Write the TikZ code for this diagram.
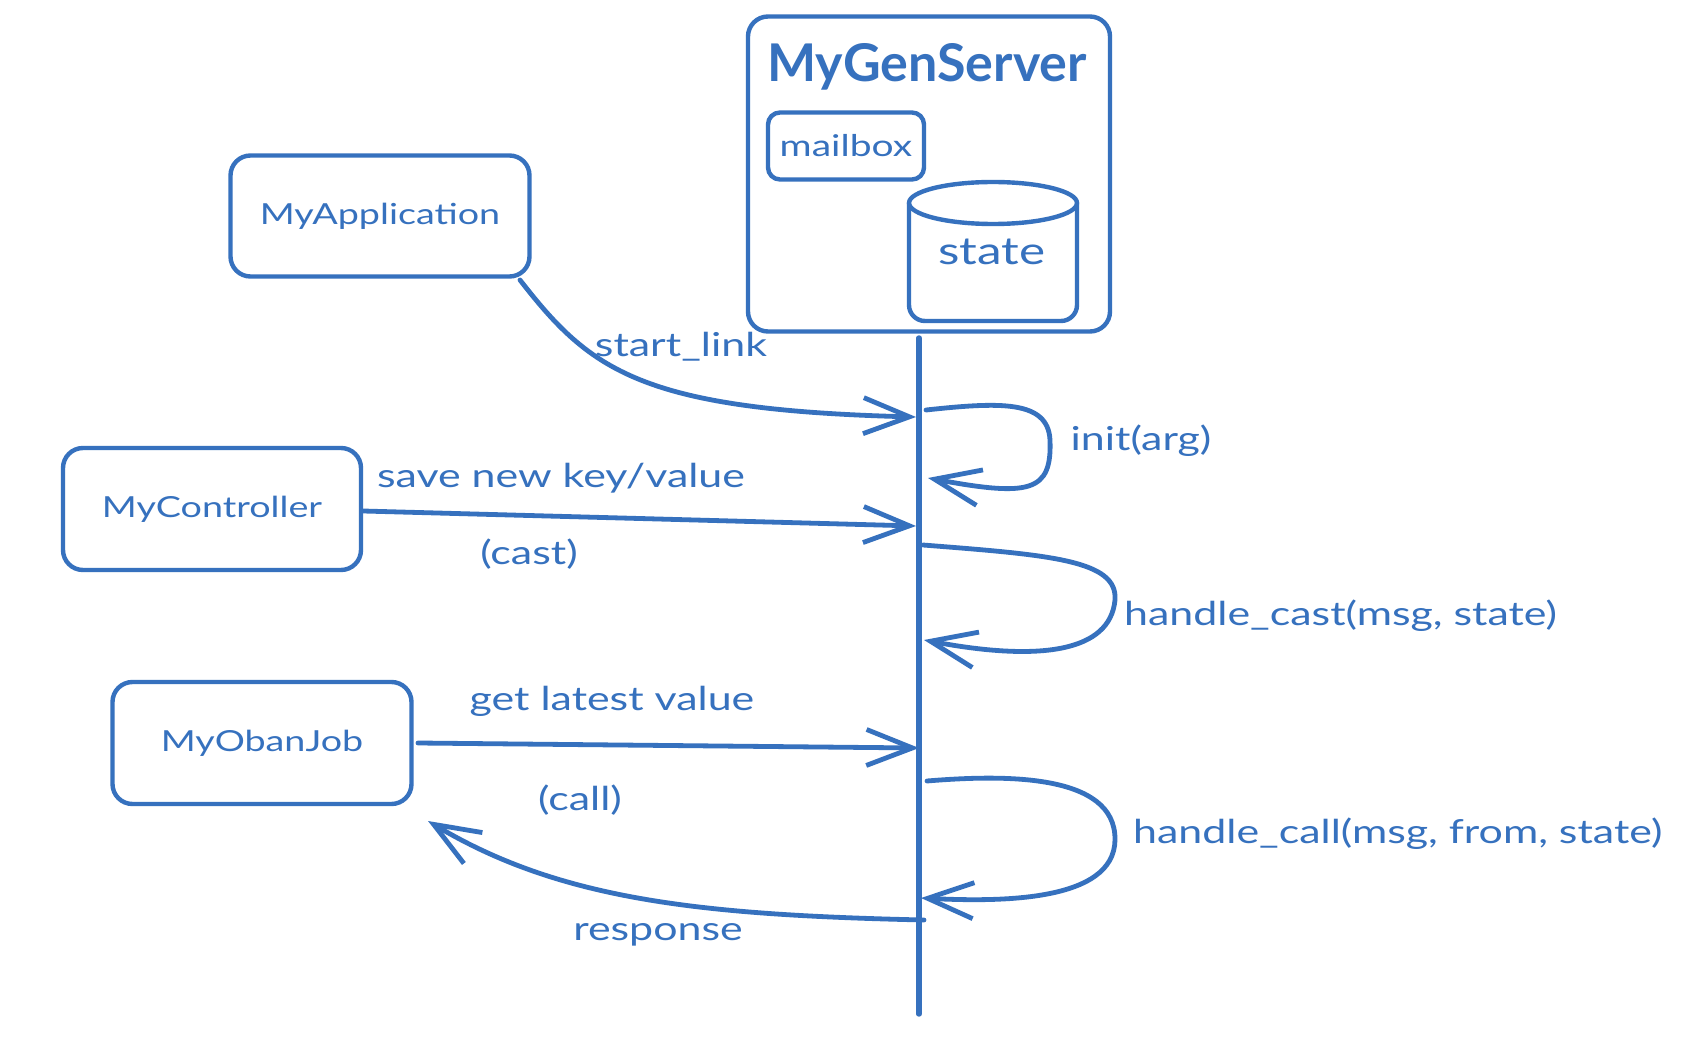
\documentclass[tikz,border=0pt]{standalone}
\usepackage{fontspec}
\setmainfont[FakeStretch=1.3]{Lato}
\newfontfamily\titlefont{Lato}
\usetikzlibrary{arrows.meta}
\definecolor{ink}{RGB}{54,113,190}
\tikzset{
  x=1pt, y=-1pt,
  ink/.style={draw=ink, line width=4.8pt, line cap=round, line join=round},
  box/.style={ink, line width=4.4pt, rounded corners=20pt, inner sep=0pt},
  cyl/.style={ink, line width=4.4pt},
  lbl/.style={text=ink, font=\fontsize{33}{37}\selectfont, inner sep=0pt},
  blbl/.style={text=ink, font=\fontsize{29}{33}\selectfont},
  conn/.style={ink, -{Straight Barb[length=46pt,width=36pt,line width=4.8pt]}},
}
\begin{document}
\begin{tikzpicture}
\useasboundingbox[fill=white] (0,0) rectangle (1700,1040);
% server
\node[box, minimum width=362pt, minimum height=315pt] (srv) at (929,174) {};
\node[text=ink, font=\titlefont\fontsize{52}{56}\bfseries\selectfont, inner sep=0pt] (title) at (927,67) {MyGenServer};
\node[box, rounded corners=12pt, minimum width=156pt, minimum height=67pt, text=ink, font=\fontsize{30}{34}\selectfont] (mail) at (846,146) {mailbox};
% cylinder
\draw[cyl, rounded corners=16pt] (909,203) -- (909,321) -- (1077,321) -- (1077,203);
\draw[cyl] (993,203) ellipse [x radius=84, y radius=21];
\node[text=ink, font=\fontsize{38}{42}\selectfont, inner sep=0pt] (state) at (992,252) {state};
% clients
\node[box, minimum width=299pt, minimum height=121pt, blbl] (app) at (380,216) {MyApplication};
\node[box, minimum width=298pt, minimum height=122pt, blbl] (ctrl) at (212,509) {MyController};
\node[box, minimum width=299pt, minimum height=122pt, blbl] (oban) at (262,743) {MyObanJob};
% lifeline
\coordinate (lt) at (919,338);
\coordinate (lb) at (919,1014);
\draw[ink, line width=5.4pt] (lt) -- (lb);
% coordinates on lifeline
\coordinate (a0) at (520,280);
\coordinate (a1) at (916,417);
\coordinate (i1) at (926,410);
\coordinate (i2) at (928,478);
\coordinate (s0) at (363,511);
\coordinate (s1) at (916,526);
\coordinate (c1) at (923,545);
\coordinate (c2) at (924,640);
\coordinate (g0) at (418,743);
\coordinate (g1) at (919,748);
\coordinate (h1) at (927,781);
\coordinate (h2) at (921,898);
\coordinate (r1) at (924,920);
\coordinate (r2) at (428,821);
% connectors
\draw[conn] (a0) .. controls (590,370) and (640,410) .. (a1);
\draw[conn] (i1) .. controls (1000,402) and (1048,400) .. (1050,440) .. controls (1052,492) and (1030,497) .. (i2);
\draw[conn] (s0) -- (s1);
\draw[conn] (c1) .. controls (1050,555) and (1118,560) .. (1115,600) .. controls (1110,652) and (1040,662) .. (c2);
\draw[conn] (g0) -- (g1);
\draw[conn] (h1) .. controls (1000,775) and (1116,772) .. (1115,840) .. controls (1114,902) and (1000,902) .. (h2);
\draw[conn] (r1) .. controls (700,915) and (560,900) .. (r2);
% labels
\node[lbl] (lstart) at (681,347) {start\_link};
\node[lbl] (linit) at (1141,441) {init(arg)};
\node[lbl] (lsave) at (561,478) {save new key/value};
\node[lbl] (lcast) at (529,554) {(cast)};
\node[lbl, anchor=west] (lhcast) at (1124,616) {handle\_cast(msg, state)};
\node[lbl] (lget) at (612,701) {get latest value};
\node[lbl] (lcall) at (580,800) {(call)};
\node[lbl, anchor=west] (lhcall) at (1133,834) {handle\_call(msg, from, state)};
\node[lbl] (lresp) at (658,935) {response};
\end{tikzpicture}
\end{document}
